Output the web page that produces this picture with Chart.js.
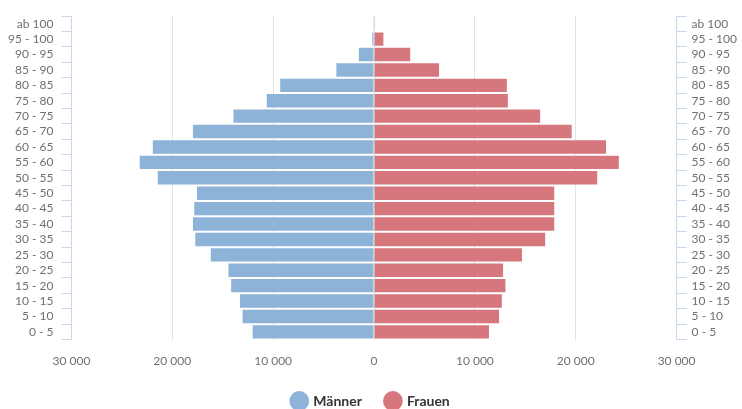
<!DOCTYPE html>
<html lang="de">
<head>
<meta charset="utf-8">
<title>Bevölkerungspyramide</title>
<script src="https://cdn.jsdelivr.net/npm/chart.js@4/dist/chart.umd.min.js"></script>
<style>
  html, body { margin: 0; padding: 0; background: #fff; }
  #wrap { width: 742px; height: 409px; }
</style>
</head>
<body>
<div id="wrap"><canvas id="pyramid" width="742" height="409"></canvas></div>
<script>
// --- Data (top row first) ---
const ageGroups = ['ab 100', '95 - 100', '90 - 95', '85 - 90', '80 - 85', '75 - 80', '70 - 75',
  '65 - 70', '60 - 65', '55 - 60', '50 - 55', '45 - 50', '40 - 45', '35 - 40', '30 - 35',
  '25 - 30', '20 - 25', '15 - 20', '10 - 15', '5 - 10', '0 - 5'];
const maenner = [20, 170, 1500, 3730, 9300, 10630, 13930, 17950, 21930, 23230, 21440,
  17550, 17820, 17950, 17720, 16180, 14430, 14160, 13290, 13030, 12030];
const frauen = [60, 930, 3590, 6450, 13170, 13270, 16470, 19600, 23000, 24270, 22130,
  17870, 17870, 17870, 16970, 14670, 12800, 13030, 12670, 12400, 11400];
const xTicks = [-30000, -20000, -10000, 0, 10000, 20000, 30000];

const BLUE = '#8db4d8';
const RED = '#d5777d';
const AXIS = '#c9d8ea';
const GRID = '#e3e3e3';
const TEXT = '#707070';
const FONT = 'Lato, "Open Sans", sans-serif';

// --- Helpers ---
function fmt(v) {
  return Math.abs(v).toString().replace(/\B(?=(\d{3})+(?!\d))/g, ' ');
}

// --- Chart ---
const ctx = document.getElementById('pyramid');
new Chart(ctx, {
  type: 'bar',
  data: {
    labels: ageGroups,
    datasets: [
      { label: 'Männer', data: maenner.map(v => -v), backgroundColor: BLUE, yAxisID: 'y' },
      { label: 'Frauen', data: frauen, backgroundColor: RED, yAxisID: 'y' }
    ]
  },
  options: {
    indexAxis: 'y',
    responsive: false,
    animation: false,
    maintainAspectRatio: false,
    datasets: { bar: { categoryPercentage: 1, barPercentage: 0.87 } },
    layout: { padding: { left: 0, right: 0, top: 16, bottom: -9 } },
    scales: {
      x: {
        stacked: true,
        min: -30000,
        max: 30000,
        afterBuildTicks: s => { s.ticks = xTicks.map(v => ({ value: v })); },
        afterFit: s => { s.height -= 12; },
        ticks: { callback: v => fmt(v), color: TEXT, font: { family: FONT, size: 12 }, padding: 14 },
        grid: { color: GRID, drawTicks: false },
        border: { display: false }
      },
      y: {
        stacked: true,
        position: 'left',
        ticks: { color: TEXT, font: { family: FONT, size: 12 }, padding: 8, autoSkip: false },
        grid: { offset: true, drawOnChartArea: false, color: AXIS, tickLength: 10 },
        border: { color: AXIS }
      },
      y2: {
        type: 'category',
        labels: ageGroups,
        position: 'right',
        display: true,
        offset: true,
        ticks: { color: TEXT, font: { family: FONT, size: 12 }, padding: 5, autoSkip: false },
        grid: { offset: true, drawOnChartArea: false, color: AXIS, tickLength: 10 },
        border: { color: AXIS }
      }
    },
    plugins: {
      legend: {
        position: 'bottom',
        labels: {
          usePointStyle: true,
          pointStyle: 'circle',
          boxWidth: 15,
          boxHeight: 15,
          padding: 24,
          color: '#333',
          font: { family: FONT, size: 14, weight: 'bold' }
        }
      },
      tooltip: { callbacks: { label: c => c.dataset.label + ': ' + fmt(c.raw) } }
    }
  }
});
</script>
</body>
</html>
